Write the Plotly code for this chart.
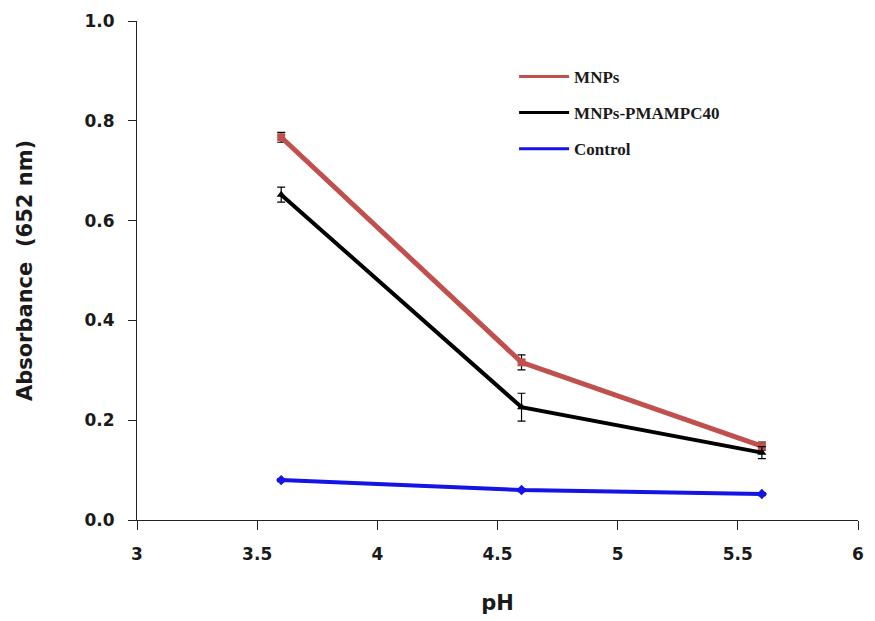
import plotly.graph_objects as go

ph = [3.6, 4.6, 5.6]
mnps = [0.767, 0.316, 0.148]
mnps_err = [0.010, 0.015, 0.008]
pmampc = [0.652, 0.226, 0.135]
pmampc_err = [0.015, 0.028, 0.012]
control = [0.080, 0.060, 0.052]
control_err = [0.003, 0.003, 0.003]

x_ticks = [3, 3.5, 4, 4.5, 5, 5.5, 6]
x_labels = ["3", "3.5", "4", "4.5", "5", "5.5", "6"]
y_ticks = [0.0, 0.2, 0.4, 0.6, 0.8, 1.0]
y_labels = ["0.0", "0.2", "0.4", "0.6", "0.8", "1.0"]

fig = go.Figure()
series = [
    ("MNPs", mnps, mnps_err, "#c0504d", 5, "square"),
    ("MNPs-PMAMPC40", pmampc, pmampc_err, "#000000", 4, "triangle-up"),
    ("Control", control, control_err, "#1414e6", 4, "diamond"),
]
for name, y, err, color, lw, sym in series:
    fig.add_trace(go.Scatter(
        x=ph, y=y, name=name, mode="lines+markers", showlegend=False,
        line=dict(color=color, width=lw),
        marker=dict(color=color, size=8, symbol=sym),
        error_y=dict(type="data", array=err, visible=True, color="black",
                     thickness=1.2, width=4),
    ))
for name, y, err, color, lw, sym in series:
    fig.add_trace(go.Scatter(
        x=[None], y=[None], name=name, mode="lines", legendgroup=name,
        line=dict(color=color, width=3),
    ))

fig.update_layout(
    width=875, height=621,
    margin=dict(l=137, r=11, t=20, b=100),
    plot_bgcolor="white", paper_bgcolor="white",
    showlegend=True,
    legend=dict(x=0.523, y=0.924, xanchor="left", yanchor="top",
                font=dict(family="Liberation Serif", size=17, color="#1a1a1a", weight="bold"),
                itemwidth=50, tracegroupgap=11, bgcolor="rgba(0,0,0,0)"),
    xaxis=dict(range=[3, 6], tickvals=x_ticks, ticktext=x_labels,
               showline=True, linecolor="#222", linewidth=1.2,
               ticks="outside", ticklen=9, tickcolor="#222",
               showgrid=False, zeroline=False, ticklabelstandoff=9,
               tickfont=dict(family="DejaVu Sans", size=17, color="#1a1a1a", weight="bold"),
               title=dict(text="pH", font=dict(family="DejaVu Sans", size=21, color="#1a1a1a", weight="bold"),
                          standoff=32)),
    yaxis=dict(range=[0, 1.0], tickvals=y_ticks, ticktext=y_labels,
               showline=True, linecolor="#222", linewidth=1.2,
               ticks="outside", ticklen=8, tickcolor="#222",
               showgrid=False, zeroline=False, ticklabelstandoff=10,
               tickfont=dict(family="DejaVu Sans", size=17, color="#1a1a1a", weight="bold"),
               title=dict(text="Absorbance  (652 nm)",
                          font=dict(family="DejaVu Sans", size=21, color="#1a1a1a", weight="bold"),
                          standoff=46)),
)
fig.write_html("out.html")
